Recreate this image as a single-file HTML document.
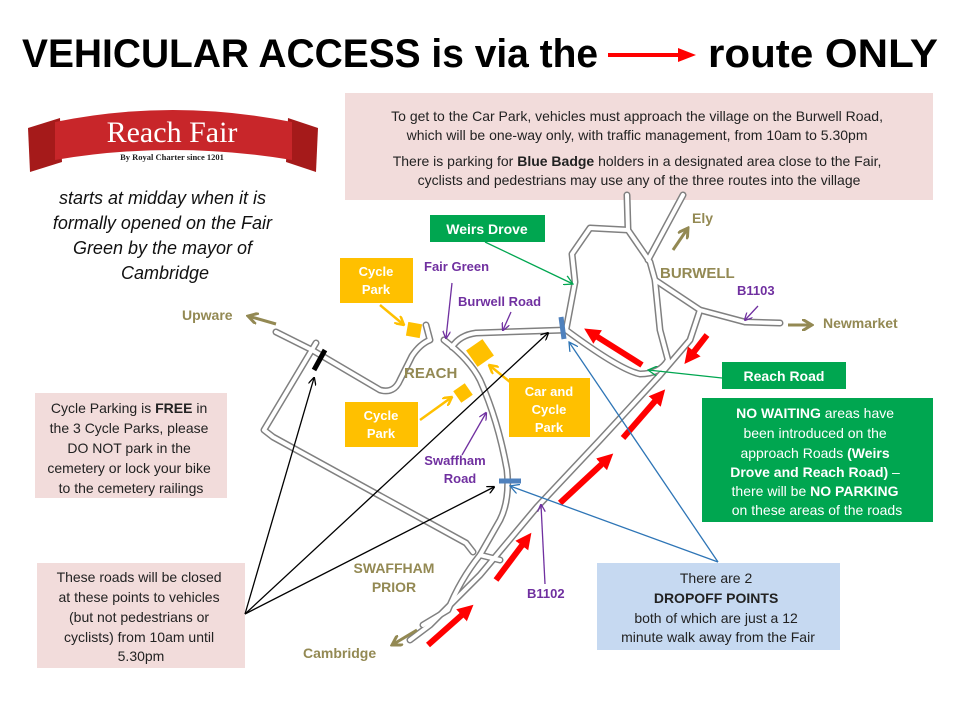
<!DOCTYPE html>
<html><head><meta charset="utf-8"><style>
html,body{margin:0;padding:0;background:#fff}
svg{display:block}
text{font-family:"Liberation Sans",Arial,sans-serif}
.b{font-weight:bold}
</style></head><body>
<svg width="960" height="720" viewBox="0 0 960 720" xmlns="http://www.w3.org/2000/svg">
<defs>
<marker id="ab" markerWidth="8" markerHeight="8" refX="7" refY="4" orient="auto" markerUnits="userSpaceOnUse"><path d="M0,0 L8,4 L0,8" fill="none" stroke="#000" stroke-width="1.3"/></marker>
<marker id="ap" markerWidth="8" markerHeight="8" refX="7" refY="4" orient="auto" markerUnits="userSpaceOnUse"><path d="M0,0 L8,4 L0,8" fill="none" stroke="#7030a0" stroke-width="1.3"/></marker>
<marker id="ag" markerWidth="10" markerHeight="10" refX="9" refY="5" orient="auto" markerUnits="userSpaceOnUse"><path d="M0,0 L9,5 L0,10" fill="none" stroke="#00a650" stroke-width="1.3"/></marker>
<marker id="abl" markerWidth="10" markerHeight="10" refX="9" refY="5" orient="auto" markerUnits="userSpaceOnUse"><path d="M0,0 L9,5 L0,10" fill="none" stroke="#2e75b6" stroke-width="1.3"/></marker>
<marker id="ay" markerWidth="10" markerHeight="10" refX="9" refY="5" orient="auto" markerUnits="userSpaceOnUse"><path d="M0,0 L9,5 L0,10" fill="none" stroke="#ffc000" stroke-width="2.5"/></marker>
<marker id="ao" markerWidth="12" markerHeight="12" refX="10" refY="6" orient="auto" markerUnits="userSpaceOnUse"><path d="M0,0 L10,6 L0,12" fill="none" stroke="#938953" stroke-width="3"/></marker>
<marker id="ar" markerWidth="16" markerHeight="16" refX="2" refY="8" orient="auto" markerUnits="userSpaceOnUse"><path d="M0,0 L16,8 L0,16Z" fill="#f00"/></marker>
</defs>

<!-- title -->
<text x="22" y="67" class="b" font-size="40" textLength="576" lengthAdjust="spacingAndGlyphs">VEHICULAR ACCESS is via the</text>
<line x1="608" y1="55" x2="680" y2="55" stroke="#f00" stroke-width="4"/>
<path d="M678,48 L696,55 L678,62Z" fill="#f00"/>
<text x="708" y="67" class="b" font-size="40" textLength="230" lengthAdjust="spacingAndGlyphs">route ONLY</text>

<!-- top pink box -->
<rect x="345" y="93" width="588" height="107" fill="#f2dcdb"/>
<text font-size="14" text-anchor="middle" fill="#222">
<tspan x="639" y="121">To get to the Car Park, vehicles must approach the village on the Burwell Road,</tspan>
<tspan x="639" y="140">which will be one-way only, with traffic management, from 10am to 5.30pm</tspan>
<tspan x="639" y="166">There is parking for <tspan class="b">Blue Badge</tspan> holders in a designated area close to the Fair,</tspan>
<tspan x="639" y="185">cyclists and pedestrians may use any of the three routes into the village</tspan>
</text>

<!-- logo -->
<path d="M28,128 L60,118 L62,162 L30,172 Z" fill="#a51a1a"/>
<path d="M288,118 L318,128 L316,172 L286,162 Z" fill="#a51a1a"/>
<path d="M55,122 Q172,98 292,122 L292,160 Q172,140 55,160 Z" fill="#c8262a"/>
<text x="172" y="142" style="font-family:'Liberation Serif',serif" font-size="30" fill="#fff" text-anchor="middle">Reach Fair</text>
<text x="172" y="160" style="font-family:'Liberation Serif',serif" font-size="8.5" font-weight="bold" fill="#222" text-anchor="middle">By Royal Charter since 1201</text>

<text font-size="18" font-style="italic" text-anchor="middle" fill="#111">
<tspan x="165" y="204">starts at midday when it is</tspan>
<tspan x="165" y="229">formally opened on the Fair</tspan>
<tspan x="165" y="254">Green by the mayor of</tspan>
<tspan x="165" y="279">Cambridge</tspan>
</text>

<!-- roads -->
<g fill="none" stroke-linejoin="round" stroke-linecap="round" stroke="#808080" stroke-width="7">
<path d="M276,332 L312,350 L380,390 Q394,394 400,380 L412,356 Q420,344 430,340 L426,325"/>
<path d="M316,343 L264,430 L273,437 L466,543 L473,552"/>
<path d="M444,340 Q470,360 480,380 Q498,420 507,470 Q510,500 500,520 L480,555 Q460,580 448,610 L423,625"/>
<path d="M452,347 Q460,335 476,333 L566,330"/>
<path d="M566,330 L575,282 L572,254 L590,228 L628,230 L650,262 L655,280 L660,330 L668,360 Q660,374 640,374 Q620,370 566,330"/>
<path d="M628,230 L627,195"/>
<path d="M648,260 L683,195"/>
<path d="M655,280 L700,310 L745,322 L780,323"/>
<path d="M700,310 L690,340 L660,375 L600,440 L537,507 L480,575 L430,625 L410,640"/>
<path d="M480,555 L500,560"/>
</g>
<g fill="none" stroke-linejoin="round" stroke-linecap="round" stroke="#fff" stroke-width="4">
<path d="M276,332 L312,350 L380,390 Q394,394 400,380 L412,356 Q420,344 430,340 L426,325"/>
<path d="M316,343 L264,430 L273,437 L466,543 L473,552"/>
<path d="M444,340 Q470,360 480,380 Q498,420 507,470 Q510,500 500,520 L480,555 Q460,580 448,610 L423,625"/>
<path d="M452,347 Q460,335 476,333 L566,330"/>
<path d="M566,330 L575,282 L572,254 L590,228 L628,230 L650,262 L655,280 L660,330 L668,360 Q660,374 640,374 Q620,370 566,330"/>
<path d="M628,230 L627,195"/>
<path d="M648,260 L683,195"/>
<path d="M655,280 L700,310 L745,322 L780,323"/>
<path d="M700,310 L690,340 L660,375 L600,440 L537,507 L480,575 L430,625 L410,640"/>
<path d="M480,555 L500,560"/>
</g>

<!-- closures -->
<line x1="325" y1="350" x2="314" y2="370" stroke="#000" stroke-width="5"/>
<line x1="561" y1="317" x2="564" y2="339" stroke="#4f81bd" stroke-width="5"/>
<line x1="499" y1="481" x2="521" y2="481" stroke="#4f81bd" stroke-width="5"/>

<!-- red route arrows -->
<g stroke="#f00" stroke-width="6" marker-end="url(#ar)">
<line x1="642" y1="365" x2="596" y2="336"/>
<line x1="707" y1="335" x2="693" y2="353"/>
<line x1="623" y1="438" x2="656" y2="400"/>
<line x1="560" y1="503" x2="603" y2="463"/>
<line x1="496" y1="580" x2="523" y2="544"/>
<line x1="428" y1="645" x2="463" y2="614"/>
</g>

<!-- destination arrows -->
<g stroke="#938953" stroke-width="3" marker-end="url(#ao)">
<line x1="276" y1="324" x2="248" y2="316"/>
<line x1="417" y1="630" x2="392" y2="645"/>
<line x1="673" y1="250" x2="688" y2="228"/>
<line x1="788" y1="325" x2="812" y2="325"/>
</g>
<g class="b" font-size="14" fill="#938953">
<text x="182" y="320">Upware</text>
<text x="303" y="658">Cambridge</text>
<text x="692" y="223">Ely</text>
<text x="823" y="328">Newmarket</text>
<text x="660" y="278" font-size="15">BURWELL</text>
<text x="404" y="378" font-size="15">REACH</text>
<text x="394" y="573" text-anchor="middle">SWAFFHAM</text>
<text x="394" y="592" text-anchor="middle">PRIOR</text>
</g>

<!-- yellow parks -->
<rect x="407" y="323" width="14" height="14" fill="#ffc000" transform="rotate(10 414 330)"/>
<rect x="470" y="343" width="20" height="20" fill="#ffc000" transform="rotate(-35 480 353)"/>
<rect x="456" y="386" width="14" height="14" fill="#ffc000" transform="rotate(-35 463 393)"/>
<g stroke="#ffc000" stroke-width="2.5" marker-end="url(#ay)">
<line x1="380" y1="305" x2="404" y2="325"/>
<line x1="510" y1="382" x2="489" y2="365"/>
<line x1="420" y1="420" x2="452" y2="397"/>
</g>
<g fill="#ffc000">
<rect x="340" y="258" width="73" height="45"/>
<rect x="345" y="402" width="73" height="45"/>
<rect x="509" y="378" width="81" height="59"/>
</g>
<g class="b" font-size="13" fill="#fff" text-anchor="middle">
<text x="376" y="276">Cycle</text><text x="376" y="294">Park</text>
<text x="381" y="420">Cycle</text><text x="381" y="438">Park</text>
<text x="549" y="396">Car and</text><text x="549" y="414">Cycle</text><text x="549" y="432">Park</text>
</g>

<!-- purple labels -->
<g class="b" font-size="13" fill="#7030a0">
<text x="424" y="271">Fair Green</text>
<text x="458" y="306">Burwell Road</text>
<text x="455" y="465" text-anchor="middle">Swaffham</text>
<text x="460" y="483" text-anchor="middle">Road</text>
<text x="527" y="598">B1102</text>
<text x="737" y="295">B1103</text>
</g>
<g stroke="#7030a0" stroke-width="1.3" marker-end="url(#ap)">
<line x1="452" y1="283" x2="446" y2="338"/>
<line x1="511" y1="312" x2="503" y2="330"/>
<line x1="462" y1="455" x2="486" y2="413"/>
<line x1="545" y1="584" x2="541" y2="505"/>
<line x1="758" y1="306" x2="745" y2="320"/>
</g>

<!-- green labels -->
<rect x="430" y="215" width="115" height="27" fill="#00a650"/>
<text x="487" y="234" class="b" font-size="14" fill="#fff" text-anchor="middle">Weirs Drove</text>
<line x1="485" y1="242" x2="573" y2="284" stroke="#00a650" stroke-width="1.3" marker-end="url(#ag)"/>
<rect x="722" y="362" width="124" height="27" fill="#00a650"/>
<text x="784" y="381" class="b" font-size="14" fill="#fff" text-anchor="middle">Reach Road</text>
<line x1="722" y1="378" x2="648" y2="370" stroke="#00a650" stroke-width="1.3" marker-end="url(#ag)"/>
<rect x="702" y="398" width="231" height="124" fill="#00a650"/>
<text font-size="14" fill="#fff" text-anchor="middle">
<tspan x="817" y="418"><tspan class="b">NO WAITING</tspan> areas have</tspan>
<tspan x="817" y="438">been introduced on the</tspan>
<tspan x="817" y="458">approach Roads <tspan class="b">(Weirs</tspan></tspan>
<tspan x="817" y="477" class="b">Drove and Reach Road)<tspan font-weight="normal"> –</tspan></tspan>
<tspan x="817" y="496">there will be <tspan class="b">NO PARKING</tspan></tspan>
<tspan x="817" y="515">on these areas of the roads</tspan>
</text>

<!-- pink left boxes -->
<rect x="35" y="393" width="192" height="105" fill="#f2dcdb"/>
<text font-size="14" fill="#222" text-anchor="middle">
<tspan x="131" y="413">Cycle Parking is <tspan class="b">FREE</tspan> in</tspan>
<tspan x="131" y="433">the 3 Cycle Parks, please</tspan>
<tspan x="131" y="453">DO NOT park in the</tspan>
<tspan x="131" y="473">cemetery or lock your bike</tspan>
<tspan x="131" y="493">to the cemetery railings</tspan>
</text>
<rect x="37" y="563" width="208" height="105" fill="#f2dcdb"/>
<text font-size="14" fill="#222" text-anchor="middle">
<tspan x="141" y="582">These roads will be closed</tspan>
<tspan x="141" y="602">at these points to vehicles</tspan>
<tspan x="141" y="622">(but not pedestrians or</tspan>
<tspan x="141" y="642">cyclists) from 10am until</tspan>
<tspan x="141" y="661">5.30pm</tspan>
</text>
<g stroke="#000" stroke-width="1.3" marker-end="url(#ab)">
<line x1="245" y1="614" x2="314" y2="378"/>
<line x1="245" y1="614" x2="548" y2="333"/>
<line x1="245" y1="614" x2="494" y2="487"/>
</g>

<!-- blue box -->
<rect x="597" y="563" width="243" height="87" fill="#c6d9f1"/>
<text font-size="14" fill="#222" text-anchor="middle">
<tspan x="718" y="583">There are 2</tspan>
<tspan x="718" y="603" class="b">DROPOFF POINTS</tspan>
<tspan x="718" y="623">both of which are just a 12</tspan>
<tspan x="718" y="642">minute walk away from the Fair</tspan>
</text>
<g stroke="#2e75b6" stroke-width="1.3" marker-end="url(#abl)">
<line x1="718" y1="562" x2="569" y2="342"/>
<line x1="718" y1="562" x2="510" y2="486"/>
</g>
</svg>
</body></html>
